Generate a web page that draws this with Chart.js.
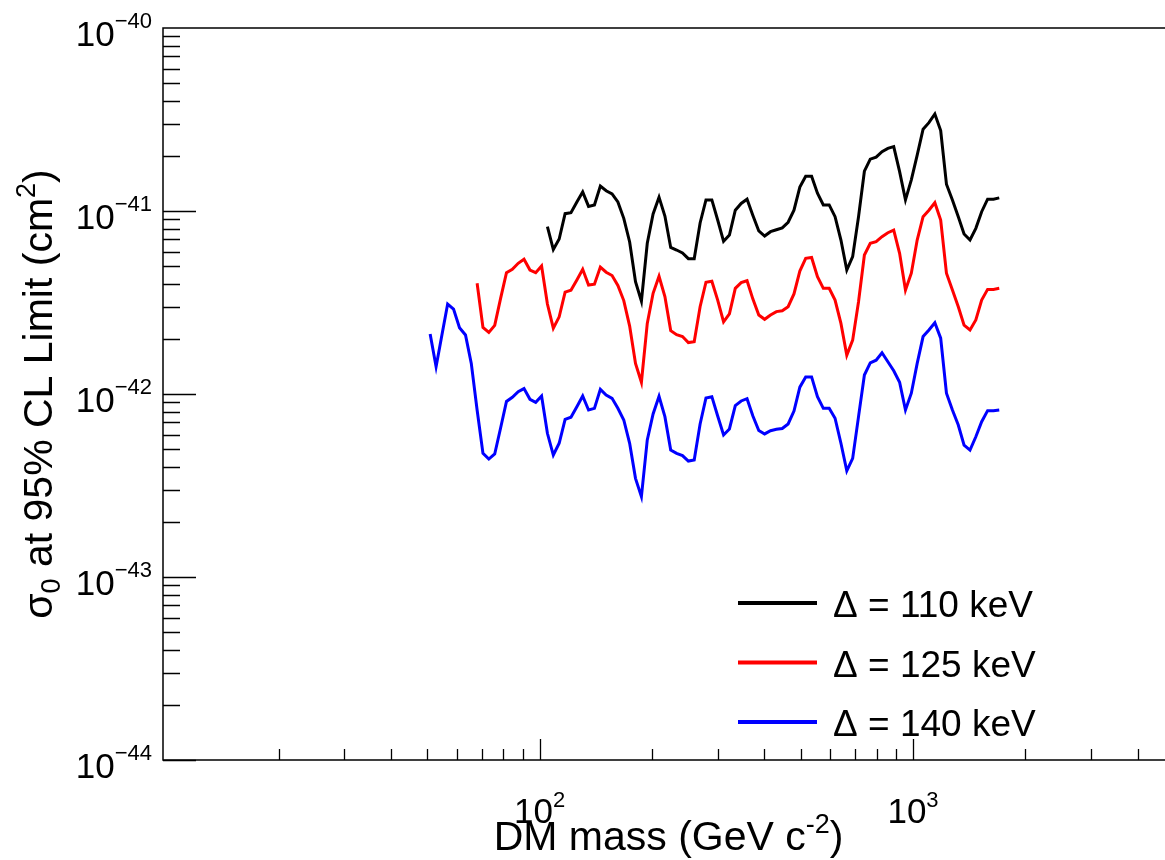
<!DOCTYPE html>
<html>
<head>
<meta charset="utf-8">
<script src="https://cdn.jsdelivr.net/npm/chart.js@4.4.0/dist/chart.umd.min.js"></script>
<style>
  html, body { margin: 0; padding: 0; overflow: hidden; background: #fff; }
  canvas { display: block; }
</style>
</head>
<body>
<canvas id="grafico" width="1176" height="860"></canvas>
<script>
// massas (GeV), grade comum das tres curvas
const massas = [
  50.9, 52.8, 54.7, 56.7, 58.8, 61.0, 63.3, 65.6, 68.0, 70.5,
  73.1, 75.8, 78.6, 81.5, 84.5, 87.6, 90.8, 94.2, 97.6, 101.2,
  104.9, 108.8, 112.8, 117.0, 121.3, 125.8, 130.4, 135.2, 140.2, 145.4,
  150.7, 156.3, 162.0, 168.0, 174.2, 180.6, 187.3, 194.2, 201.3, 208.8,
  216.5, 224.4, 232.7, 241.3, 250.2, 259.4, 269.0, 278.9, 289.2, 299.8,
  310.9, 322.3, 334.2, 346.5, 359.3, 372.5, 386.3, 400.5, 415.3, 430.6,
  446.4, 462.9, 479.9, 497.6, 515.9, 535.0, 554.7, 575.1, 596.3, 618.3,
  641.1, 664.7, 689.2, 714.6, 740.9, 768.2, 796.5, 825.9, 856.3, 887.8,
  920.6, 954.5, 989.6, 1026, 1064, 1103, 1144, 1186, 1229, 1275,
  1322, 1370, 1421, 1473, 1527, 1584, 1642, 1702
];

// Delta = 110 keV (comeca em massas[20])
const sigma110 = [
  8.21e-42, 6.16e-42, 7.03e-42, 9.67e-42, 9.79e-42, 1.12e-41, 1.27e-41, 1.06e-41, 1.08e-41, 1.37e-41,
  1.29e-41, 1.24e-41, 1.12e-41, 9.12e-42, 6.77e-42, 4.11e-42, 3.22e-42, 6.66e-42, 9.63e-42, 1.19e-41,
  9.39e-42, 6.32e-42, 6.12e-42, 5.90e-42, 5.49e-42, 5.49e-42, 8.60e-42, 1.15e-41, 1.15e-41, 8.93e-42,
  6.83e-42, 7.39e-42, 1.01e-41, 1.10e-41, 1.16e-41, 9.45e-42, 7.78e-42, 7.30e-42, 7.71e-42, 7.90e-42,
  8.09e-42, 8.68e-42, 1.01e-41, 1.35e-41, 1.55e-41, 1.55e-41, 1.25e-41, 1.08e-41, 1.08e-41, 9.31e-42,
  6.94e-42, 4.76e-42, 5.63e-42, 9.31e-42, 1.65e-41, 1.92e-41, 1.97e-41, 2.11e-41, 2.20e-41, 2.25e-41,
  1.64e-41, 1.15e-41, 1.48e-41, 2.02e-41, 2.80e-41, 3.04e-41, 3.39e-41, 2.75e-41, 1.40e-41, 1.15e-41,
  9.31e-42, 7.49e-42, 6.94e-42, 8.04e-42, 9.91e-42, 1.16e-41, 1.16e-41, 1.18e-41
];

// Delta = 125 keV (comeca em massas[8])
const sigma125 = [
  4.03e-42, 2.31e-42, 2.17e-42, 2.37e-42, 3.33e-42, 4.60e-42, 4.80e-42, 5.18e-42, 5.45e-42, 4.76e-42,
  4.60e-42, 5.01e-42, 3.10e-42, 2.29e-42, 2.64e-42, 3.60e-42, 3.69e-42, 4.20e-42, 4.80e-42, 3.94e-42,
  3.98e-42, 4.94e-42, 4.63e-42, 4.44e-42, 3.92e-42, 3.24e-42, 2.35e-42, 1.47e-42, 1.16e-42, 2.43e-42,
  3.55e-42, 4.40e-42, 3.41e-42, 2.22e-42, 2.11e-42, 2.06e-42, 1.91e-42, 1.93e-42, 3.00e-42, 4.08e-42,
  4.13e-42, 3.26e-42, 2.48e-42, 2.74e-42, 3.78e-42, 4.06e-42, 4.16e-42, 3.30e-42, 2.70e-42, 2.56e-42,
  2.70e-42, 2.82e-42, 2.85e-42, 3.00e-42, 3.52e-42, 4.70e-42, 5.51e-42, 5.57e-42, 4.38e-42, 3.78e-42,
  3.78e-42, 3.26e-42, 2.43e-42, 1.63e-42, 1.97e-42, 3.19e-42, 5.75e-42, 6.66e-42, 6.80e-42, 7.24e-42,
  7.61e-42, 7.87e-42, 5.87e-42, 3.70e-42, 4.57e-42, 6.94e-42, 9.31e-42, 1.01e-41, 1.11e-41, 8.93e-42,
  4.57e-42, 3.70e-42, 3.00e-42, 2.38e-42, 2.24e-42, 2.54e-42, 3.26e-42, 3.73e-42, 3.73e-42, 3.78e-42
];

// Delta = 140 keV (comeca em massas[0])
const sigma140 = [
  2.13e-42, 1.41e-42, 2.09e-42, 3.10e-42, 2.91e-42, 2.30e-42, 2.10e-42, 1.47e-42, 8.18e-43, 4.74e-43,
  4.41e-43, 4.70e-43, 6.52e-43, 9.10e-43, 9.59e-43, 1.03e-42, 1.07e-42, 9.36e-43, 9.01e-43, 9.75e-43,
  6.10e-43, 4.64e-43, 5.38e-43, 7.27e-43, 7.46e-43, 8.52e-43, 9.75e-43, 8.18e-43, 8.35e-43, 1.06e-42,
  9.87e-43, 9.47e-43, 8.35e-43, 7.21e-43, 5.38e-43, 3.46e-43, 2.75e-43, 5.61e-43, 7.78e-43, 9.71e-43,
  7.52e-43, 4.94e-43, 4.74e-43, 4.61e-43, 4.30e-43, 4.36e-43, 6.86e-43, 9.51e-43, 9.67e-43, 7.58e-43,
  5.97e-43, 6.44e-43, 8.65e-43, 9.16e-43, 9.43e-43, 7.58e-43, 6.32e-43, 6.05e-43, 6.30e-43, 6.41e-43,
  6.48e-43, 6.86e-43, 8.07e-43, 1.09e-42, 1.24e-42, 1.24e-42, 9.67e-43, 8.35e-43, 8.35e-43, 7.37e-43,
  5.38e-43, 3.80e-43, 4.45e-43, 7.52e-43, 1.27e-42, 1.48e-42, 1.53e-42, 1.68e-42, 1.50e-42, 1.34e-42,
  1.16e-42, 8.18e-43, 1.01e-42, 1.47e-42, 2.06e-42, 2.24e-42, 2.45e-42, 2.02e-42, 1.01e-42, 8.18e-43,
  6.77e-43, 5.26e-43, 4.94e-43, 5.84e-43, 7.06e-43, 8.11e-43, 8.11e-43, 8.18e-43
];

const rotulos = ['\u0394 = 110 keV', '\u0394 = 125 keV', '\u0394 = 140 keV'];
const cores = ['#000000', '#ff0000', '#0000ff'];
const expoentesY = [-40, -41, -42, -43, -44];
const expoentesX = [2, 3];

const FONTE = '"Liberation Sans", Arial, Helvetica, sans-serif';

function pontos(valores) {
  const ini = massas.length - valores.length;
  return valores.map((v, i) => ({ x: massas[ini + i], y: v }));
}

// texto com partes (normal / sobrescrito / subscrito)
function larguraPartes(ctx, partes) {
  let w = 0;
  partes.forEach(p => { ctx.font = p.tam + 'px ' + FONTE; w += ctx.measureText(p.t).width; });
  return w;
}
function desenhaPartes(ctx, partes, x, y) {
  partes.forEach(p => {
    ctx.font = p.tam + 'px ' + FONTE;
    ctx.fillText(p.t, x, y + (p.dy || 0));
    x += ctx.measureText(p.t).width;
  });
}

const eixosROOT = {
  id: 'eixosROOT',
  afterDraw(chart) {
    const ctx = chart.ctx;
    const { left, right, top, bottom } = chart.chartArea;
    const sx = chart.scales.x, sy = chart.scales.y;
    ctx.save();
    ctx.strokeStyle = '#000';
    ctx.fillStyle = '#000';
    ctx.textBaseline = 'alphabetic';
    ctx.textAlign = 'left';

    // moldura
    ctx.lineWidth = 1.5;
    ctx.beginPath();
    ctx.moveTo(right, top); ctx.lineTo(left, top); ctx.lineTo(left, bottom); ctx.lineTo(right, bottom);
    ctx.stroke();

    // marcas do eixo y (para dentro)
    ctx.lineWidth = 1.3;
    ctx.beginPath();
    for (let e = -44; e < -40; e++) {
      for (let m = 1; m <= 9; m++) {
        const py = Math.round(sy.getPixelForValue(m * Math.pow(10, e))) + 0.5;
        const len = m === 1 ? 33 : 17;
        ctx.moveTo(left, py); ctx.lineTo(left + len, py);
      }
    }
    // marcas do eixo x (sem marca no canto em 10)
    for (let e = 1; e <= 3; e++) {
      for (let m = 1; m <= 9; m++) {
        const v = m * Math.pow(10, e);
        if (v < 20 || v > sx.max) continue;
        const px = Math.round(sx.getPixelForValue(v)) + 0.5;
        const len = m === 1 ? 21 : 11;
        ctx.moveTo(px, bottom); ctx.lineTo(px, bottom - len);
      }
    }
    ctx.stroke();

    // rotulos do eixo y
    expoentesY.forEach(e => {
      const py = sy.getPixelForValue(Math.pow(10, e));
      const partes = [{ t: '10', tam: 35, dy: 17.5 }, { t: '\u2212' + Math.abs(e), tam: 22, dy: 0 }];
      const w = larguraPartes(ctx, partes);
      desenhaPartes(ctx, partes, 152 - w, py);
    });

    // rotulos do eixo x
    expoentesX.forEach(e => {
      const px = sx.getPixelForValue(Math.pow(10, e));
      const partes = [{ t: '10', tam: 35, dy: 0 }, { t: String(e), tam: 22, dy: -16 }];
      const w = larguraPartes(ctx, partes);
      desenhaPartes(ctx, partes, px - w / 2, bottom + 63);
    });

    // titulo x
    const tituloX = [{ t: 'DM mass (GeV c', tam: 41 }, { t: '-2', tam: 27, dy: -17 }, { t: ')', tam: 41 }];
    const wx = larguraPartes(ctx, tituloX);
    desenhaPartes(ctx, tituloX, (left + right) / 2 - wx / 2, 850);

    // titulo y
    const tituloY = [
      { t: '\u03c3', tam: 41 }, { t: '0', tam: 27, dy: 8 },
      { t: ' at 95% CL Limit (cm', tam: 41 }, { t: '2', tam: 27, dy: -17 }, { t: ')', tam: 41 }
    ];
    const wy = larguraPartes(ctx, tituloY);
    ctx.save();
    ctx.translate(52, (top + bottom) / 2);
    ctx.rotate(-Math.PI / 2);
    desenhaPartes(ctx, tituloY, -wy / 2, 0);
    ctx.restore();

    // legenda
    chart.data.datasets.forEach((ds, i) => {
      const ly = 603 + 59.5 * i;
      ctx.strokeStyle = ds.borderColor;
      ctx.lineWidth = 4;
      ctx.beginPath();
      ctx.moveTo(738, ly); ctx.lineTo(817, ly);
      ctx.stroke();
      ctx.fillStyle = '#000';
      ctx.font = '37px ' + FONTE;
      ctx.fillText(ds.label, 833, ly + 14);
    });

    ctx.restore();
  }
};

new Chart(document.getElementById('grafico'), {
  type: 'line',
  data: {
    datasets: [
      { label: rotulos[0], data: pontos(sigma110), borderColor: cores[0] },
      { label: rotulos[1], data: pontos(sigma125), borderColor: cores[1] },
      { label: rotulos[2], data: pontos(sigma140), borderColor: cores[2] }
    ]
  },
  options: {
    responsive: false,
    animation: false,
    layout: { padding: { left: 163, top: 28, right: 2, bottom: 100 } },
    elements: {
      line: { borderWidth: 3, tension: 0, fill: false },
      point: { radius: 0 }
    },
    scales: {
      x: { type: 'logarithmic', min: 9.8, max: 5000, display: false },
      y: { type: 'logarithmic', min: 1e-44, max: 1e-40, display: false }
    },
    plugins: { legend: { display: false }, tooltip: { enabled: false } }
  },
  plugins: [eixosROOT]
});
</script>
</body>
</html>
